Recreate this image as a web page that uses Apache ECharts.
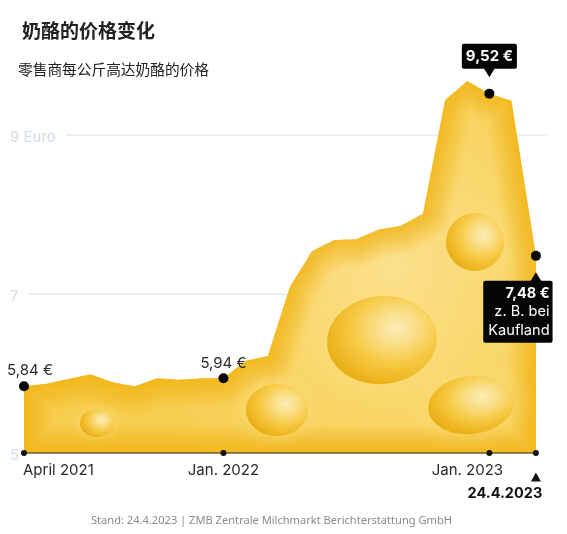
<!DOCTYPE html>
<html>
<head>
<meta charset="utf-8">
<style>
  html, body { margin: 0; background: #fff; }
  #chart { width: 567px; height: 534px; }
</style>
<script src="https://cdn.jsdelivr.net/npm/echarts@6/dist/echarts.min.js"></script>
</head>
<body>
<div id="chart"></div>
<script>
'use strict';

//months since April 2021, last point is 24.4.2023
var months = [0, 1, 2, 3, 4, 5, 6, 7, 8, 9, 10, 11, 12, 13, 14, 15, 16, 17, 18, 19, 20, 21, 22, 23.1];
var prices = [5.84, 5.87, 5.93, 5.99, 5.89, 5.84, 5.94, 5.92, 5.94, 5.94, 6.16, 6.22, 7.09, 7.54, 7.68, 7.69, 7.81, 7.86, 8.01, 9.44, 9.68, 9.52, 9.43, 7.48];

var yTicks = [5, 7, 9];
var xTickMonths = [0, 9, 21, 23.1];
var xTickLabels = ['April 2021', 'Jan. 2022', 'Jan. 2023', '24.4.2023'];

var calloutMonths = [0, 9, 21, 23.1];
var calloutPrices = [5.84, 5.94, 9.52, 7.48];

var LATIN = 'Inter, "Noto Sans", sans-serif';
var CJK = '"Noto Sans CJK SC", sans-serif';

//cheese holes in pixels: cx, cy, rx, ry, rotation
var holes = [
  [97, 423, 17, 14, 0],
  [277, 410, 31, 26, 0],
  [382, 340, 55, 44, 0.1],
  [471, 405, 43, 29, 0.12],
  [475, 242, 29, 29, 0]
];

function holeChildren() {
  var out = [];
  holes.forEach(function(h) {
    var base = {x: h[0], y: h[1], rotation: h[4], scaleX: h[2] / 50, scaleY: h[3] / 50};
    //soft light ring around the hole
    out.push(Object.assign({}, base, {
      type: 'circle',
      shape: {cx: 0, cy: 0, r: 75},
      style: {
        fill: {
          type: 'radial', x: 0.5, y: 0.5, r: 0.5,
          colorStops: [
            {offset: 0.6, color: 'rgba(252,224,130,0.3)'},
            {offset: 1, color: 'rgba(252,224,130,0)'}
          ]
        }
      }
    }));
    out.push(Object.assign({}, base, {
      type: 'circle',
      shape: {cx: 0, cy: 0, r: 50},
      style: {
        fill: {
          type: 'radial', x: 0.64, y: 0.38, r: 0.72,
          colorStops: [
            {offset: 0, color: '#fbedb8'},
            {offset: 0.25, color: '#fadf88'},
            {offset: 0.55, color: '#f6ca45'},
            {offset: 0.85, color: '#edb41e'},
            {offset: 1, color: '#e5a60e'}
          ]
        }
      }
    }));
  });
  return out;
}

function renderCheese(params, api) {
  var pts = months.map(function(m, i) {
    return api.coord([m, prices[i]]);
  });
  var baseL = api.coord([months[0], 5]);
  var baseR = api.coord([months[months.length - 1], 5]);
  var outline = pts.concat([baseR, baseL]);
  var closed = outline.concat([outline[0], outline[1]]);

  var children = [{
    type: 'polygon',
    shape: {points: outline},
    style: {
      fill: {
        type: 'radial', x: 0.72, y: 0.5, r: 0.75,
        colorStops: [
          {offset: 0, color: '#fbe08c'},
          {offset: 0.5, color: '#f9d668'},
          {offset: 1, color: '#f7cd4e'}
        ]
      }
    }
  }];
  //inner glow towards the rim, stacked strokes clipped by the outline
  [56, 50, 45, 40, 35, 31, 27, 23, 19, 15, 12, 9, 6, 3].forEach(function(w) {
    children.push({
      type: 'polyline',
      shape: {points: closed},
      style: {fill: null, stroke: 'rgba(245,182,12,0.08)', lineWidth: w, lineJoin: 'round'}
    });
  });
  children = children.concat(holeChildren());

  return {
    type: 'group',
    children: [
      {
        type: 'group',
        clipPath: {type: 'polygon', shape: {points: outline}},
        children: children
      },
      {
        type: 'line',
        shape: {x1: baseL[0], y1: baseL[1], x2: baseR[0], y2: baseR[1]},
        style: {stroke: '#6d5c33', lineWidth: 1.5}
      }
    ]
  };
}

var chart = echarts.init(document.getElementById('chart'));

var option = {
  animation: false,
  title: [
    {text: '奶酪的价格变化', left: 17, top: 16, textStyle: {fontFamily: CJK, fontSize: 19, fontWeight: 'bold', color: '#222'}},
    {text: '零售商每公斤高达奶酪的价格', left: 13, top: 57, textStyle: {fontFamily: CJK, fontSize: 14.7, fontWeight: 'normal', color: '#222'}},
    {
      text: 'Stand: 24.4.2023 | ZMB Zentrale Milchmarkt Berichterstattung GmbH',
      left: 86, top: 510,
      textStyle: {fontFamily: '"Noto Sans", sans-serif', fontSize: 11.1, fontWeight: 'normal', color: '#8a8a8a'}
    }
  ],
  grid: {left: 24, right: 20, top: 55.5, bottom: 81},
  xAxis: {
    type: 'value',
    min: 0,
    max: 23.6,
    axisLine: {show: false},
    axisTick: {show: false},
    axisLabel: {show: false},
    splitLine: {show: false}
  },
  yAxis: {
    type: 'value',
    min: 5,
    max: 10,
    axisLine: {show: false},
    axisTick: {show: false, customValues: yTicks},
    splitLine: {show: true, showMinLine: false, lineStyle: {color: '#e6eaee', width: 1.5}},
    axisLabel: {
      customValues: yTicks,
      align: 'left',
      margin: 14,
      backgroundColor: '#fff',
      padding: [0, 10, 0, 0],
      formatter: function(v) {
        return '{a|' + (v === 9 ? '9 Euro' : v) + '}';
      },
      rich: {
        a: {color: '#d3dde4', fontFamily: LATIN, fontSize: 15, padding: [4, 0, 0, 0]}
      }
    }
  },
  series: [
    {
      type: 'custom',
      coordinateSystem: 'cartesian2d',
      clip: false,
      silent: true,
      z: 2,
      data: [[0, 5]],
      renderItem: renderCheese
    },
    {
      //axis dots with their date labels
      type: 'scatter',
      symbolSize: 6,
      z: 3,
      itemStyle: {color: '#111', opacity: 1},
      data: xTickMonths.map(function(m, i) {
        var last = i === xTickMonths.length - 1;
        return {
          value: [m, 5],
          label: {
            show: true,
            position: 'bottom',
            distance: last ? 30 : 7,
            align: i === 0 ? 'left' : 'center',
            offset: i === 0 ? [-1, 0] : (last ? [-31, 0] : (i === 2 ? [-22, 0] : [0, 0])),
            formatter: xTickLabels[i],
            fontFamily: LATIN,
            fontSize: last ? 14.5 : 15,
            fontWeight: last ? 'bold' : 'normal',
            color: last ? '#111' : '#2a2a2a'
          }
        };
      })
    },
    {
      //small triangle above the last date
      type: 'scatter',
      symbol: 'triangle',
      symbolSize: [10, 9],
      symbolOffset: [0, 24],
      z: 3,
      itemStyle: {color: '#111', opacity: 1},
      data: [[months[months.length - 1], 5]]
    },
    {
      //pointers of the two black boxes
      type: 'scatter',
      symbol: 'triangle',
      symbolSize: [11, 9],
      z: 4,
      itemStyle: {color: '#050505', opacity: 1},
      data: [
        {value: [calloutMonths[2], calloutPrices[2]], symbolRotate: 180, symbolOffset: [0, -21]},
        {value: [calloutMonths[3], calloutPrices[3]], symbolOffset: [0, 21]}
      ]
    },
    {
      type: 'scatter',
      symbolSize: 10,
      z: 5,
      itemStyle: {color: '#050505', opacity: 1},
      data: [
        {
          value: [calloutMonths[0], calloutPrices[0]],
          label: {show: true, position: 'top', distance: 3, offset: [6, 0], formatter: '5,84 €', fontFamily: LATIN, fontSize: 15, color: '#2a2a2a'}
        },
        {
          value: [calloutMonths[1], calloutPrices[1]],
          label: {show: true, position: 'top', distance: 2, formatter: '5,94 €', fontFamily: LATIN, fontSize: 15, color: '#2a2a2a'}
        },
        {
          value: [calloutMonths[2], calloutPrices[2]],
          label: {
            show: true,
            position: 'top',
            distance: 20,
            formatter: '9,52 €',
            fontFamily: LATIN,
            fontSize: 15,
            fontWeight: 'bold',
            color: '#fff',
            backgroundColor: '#050505',
            borderRadius: 2,
            padding: [5, 4, 5, 4]
          }
        },
        {
          value: [calloutMonths[3], calloutPrices[3]],
          label: {
            show: true,
            position: 'bottom',
            distance: 20,
            offset: [-18, 0],
            formatter: '{b|7,48 €}\n{n|z. B. bei}\n{n|Kaufland}',
            backgroundColor: '#050505',
            borderRadius: 2,
            padding: [3, 3, 3, 5],
            rich: {
              b: {fontFamily: LATIN, fontSize: 14.5, fontWeight: 'bold', color: '#fff', align: 'right', lineHeight: 19},
              n: {fontFamily: LATIN, fontSize: 14.6, color: '#fff', align: 'right', lineHeight: 18.5}
            }
          }
        }
      ]
    }
  ]
};

chart.setOption(option);
</script>
</body>
</html>
